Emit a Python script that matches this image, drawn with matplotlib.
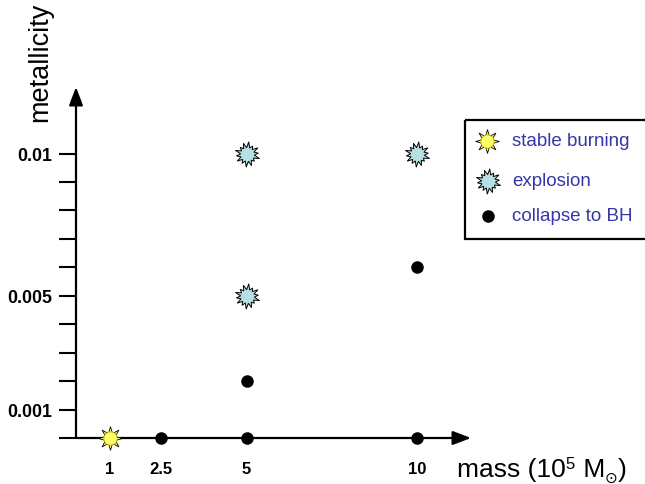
import numpy as np
import matplotlib
matplotlib.use('Agg')
import matplotlib.pyplot as plt
from matplotlib.path import Path
from matplotlib.patches import Rectangle
from matplotlib.transforms import offset_copy

# ---- data ----
stable_mass = [1]
stable_Z = [0.0]
explosion_mass = [5, 10, 5]
explosion_Z = [0.01, 0.01, 0.005]
bh_mass = [2.5, 5, 10, 5, 10]
bh_Z = [0.0, 0.0, 0.0, 0.002, 0.006]
x_ticks = [1, 2.5, 5, 10]
x_ticklabels = ['1', '2.5', '5', '10']
y_ticks = [0.0, 0.001, 0.002, 0.003, 0.004, 0.005, 0.006, 0.007, 0.008, 0.009, 0.01]
y_ticklabels = ['', '0.001', '', '', '', '0.005', '', '', '', '', '0.01']
legend_labels = ['stable burning', 'explosion', 'collapse to BH']

plt.rcParams['font.family'] = ['Liberation Sans', 'DejaVu Sans']

W, H = 645, 485
fig = plt.figure(figsize=(W / 100, H / 100), dpi=100)

# geometry in pixels
x0_px, y0_px = 76, 439
xr_px, yt_px = 471, 88
px_per_unit_x = 34.11
px_per_unit_y = 28.44 / 0.001
ax = fig.add_axes([x0_px / W, (H - y0_px) / H, (xr_px - x0_px) / W, (y0_px - yt_px) / H])
ax.set_xlim(0, (xr_px - x0_px) / px_per_unit_x)
ax.set_ylim(0, (y0_px - yt_px) / px_per_unit_y)
for s in ax.spines.values():
    s.set_visible(False)
ax.patch.set_alpha(0)

# axes arrows
arrowkw = dict(arrowstyle='-|>,head_length=1.1,head_width=0.42', lw=1.6, color='black',
               mutation_scale=10, shrinkA=0, shrinkB=0)
ax.annotate('', xy=(0, 1), xytext=(0, 0), xycoords='axes fraction', arrowprops=arrowkw, annotation_clip=False)
ax.annotate('', xy=(1, 0), xytext=(0, 0), xycoords='axes fraction', arrowprops=arrowkw, annotation_clip=False)

ax.set_yticks(y_ticks)
ax.set_yticklabels(y_ticklabels, fontweight='bold')
ax.tick_params(axis='y', direction='out', length=12.2, width=1.5, pad=5, labelsize=12.8)
ax.set_xticks(x_ticks)
ax.set_xticklabels(x_ticklabels, fontweight='bold')
ax.tick_params(axis='x', direction='out', length=3.6, width=1.5, pad=13, labelsize=12)

# custom markers
def star_path(n, r_in, outer_radii, phase=0.0):
    verts = []
    for i in range(n):
        a = phase + 2 * np.pi * i / n
        ro = outer_radii[i % len(outer_radii)]
        verts.append((ro * np.sin(a), ro * np.cos(a)))
        a2 = a + np.pi / n
        verts.append((r_in * np.sin(a2), r_in * np.cos(a2)))
    verts.append(verts[0])
    codes = [Path.MOVETO] + [Path.LINETO] * (len(verts) - 2) + [Path.CLOSEPOLY]
    return Path(verts, codes)

explosion_marker = star_path(14, 0.55, [1.0, 0.78, 0.97, 0.86, 1.0, 0.76, 0.93, 1.0, 0.82, 0.96, 0.88, 1.0, 0.8, 0.94], 0.1)
sun_rays = star_path(8, 0.45, [1.0], 0.0)

expl_fc = '#b6e0e4'
sun_fc = '#ffff66'

def draw_sun(a, xs, ys, **kw):
    a.plot(xs, ys, linestyle='none', marker=sun_rays, ms=17, mfc=sun_fc, mec='black', mew=0.6, zorder=5, **kw)
    a.plot(xs, ys, linestyle='none', marker='o', ms=9.5, mfc=sun_fc, mec='#c8b800', mew=0.6, zorder=6, **kw)

def draw_expl(a, xs, ys, **kw):
    a.plot(xs, ys, linestyle='none', marker=explosion_marker, ms=18, mfc=expl_fc, mec='black', mew=0.7, zorder=5, **kw)

def draw_bh(a, xs, ys, **kw):
    a.plot(xs, ys, linestyle='none', marker='o', ms=8, mfc='black', mec='black', zorder=5, **kw)

draw_sun(ax, stable_mass, stable_Z, clip_on=False)
draw_expl(ax, explosion_mass, explosion_Z, clip_on=False)
draw_bh(ax, bh_mass, bh_Z, clip_on=False)

# axis labels
fig.text(40.5 / W, 1 - 62.5 / H, 'metallicity', rotation=90, ha='center', va='center', fontsize=19.5)

# x label composed piecewise: "mass (10" + sup "5" + " M" + sub "⊙" + ")"
renderer = fig.canvas.get_renderer()
pieces = [('mass (10', 19, 0), ('5', 12, 8), (' M', 19, 0), ('\u2299', 11, -6), (')', 19, 0)]
cur_x = 457.0
base_y = H - 477
for txt, fs, dy in pieces:
    t = fig.text(cur_x / W, (base_y + dy) / H, txt, ha='left', va='baseline', fontsize=fs,
                 family=['Liberation Sans', 'DejaVu Sans'])
    bb = t.get_window_extent(renderer=renderer)
    cur_x = bb.x1 + (0.5 if txt == '5' else 0)

# legend (manual)
lax = fig.add_axes([0, 0, 1, 1])
lax.set_xlim(0, W)
lax.set_ylim(H, 0)
lax.axis('off')
lax.patch.set_alpha(0)
lax.add_patch(Rectangle((465, 121), 200, 119, fill=False, ec='black', lw=1.6, clip_on=False))
rows_y = [141.5, 182, 217]
draw_sun(lax, [487], [rows_y[0]])
draw_expl(lax, [488], [rows_y[1]])
draw_bh(lax, [488], [rows_y[2]])
for lab, yy in zip(legend_labels, rows_y):
    lax.text(512, yy, lab, ha='left', va='center', fontsize=13.5, color='#3636a8')

fig.savefig('out.png', dpi=100)
